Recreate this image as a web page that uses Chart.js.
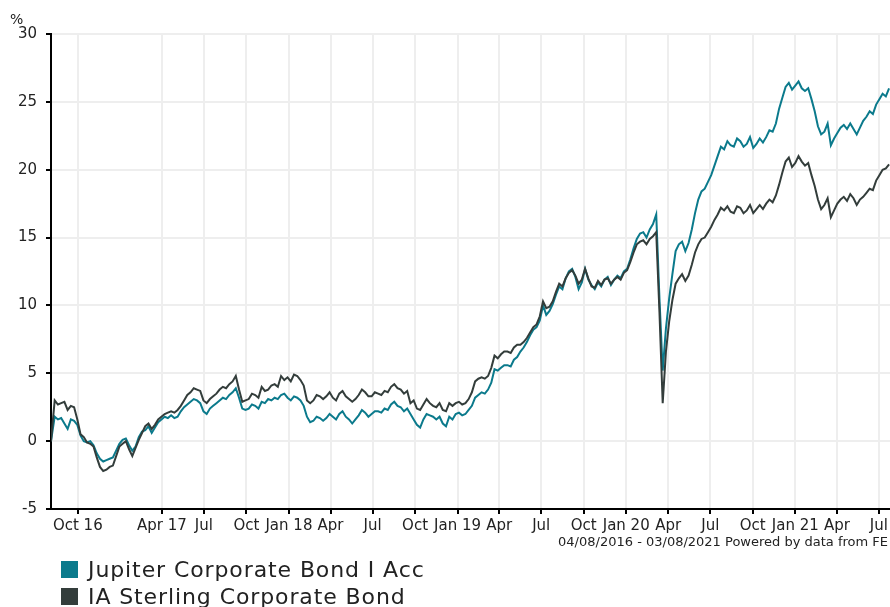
<!DOCTYPE html>
<html>
<head>
<meta charset="utf-8">
<script src="https://cdn.jsdelivr.net/npm/chart.js@4.4.0/dist/chart.umd.min.js"></script>
<style>
  body { margin: 0; background: #fff; font-family: "DejaVu Sans", sans-serif; }
  #wrap { position: relative; width: 890px; height: 607px; overflow: hidden; }
  #unit { position: absolute; left: 10px; top: 11px; font-size: 14px; color: #222; }
  #source { position: absolute; right: 2px; top: 534px; font-size: 13px; color: #222; white-space: nowrap; }
  .key { position: absolute; left: 61px; font-size: 22px; letter-spacing: 0.9px; color: #222; white-space: nowrap; line-height: 26px; }
  .key span { display: inline-block; width: 17px; height: 17px; margin-right: 10px; vertical-align: -1px; }
</style>
</head>
<body>
<div id="wrap">
  <canvas id="perfChart" width="890" height="607"></canvas>
  <div id="unit">%</div>
  <div id="source">04/08/2016 - 03/08/2021 Powered by data from FE</div>
  <div class="key" style="top:557px"><span style="background:#0b7a8c"></span>Jupiter Corporate Bond I Acc</div>
  <div class="key" style="top:584px"><span style="background:#333d3b"></span>IA Sterling Corporate Bond</div>
</div>
<script>
// days counted from 04/08/2016
const tickDays = [58, 240, 331, 423, 515, 605, 696, 788, 880, 970, 1061, 1153, 1245, 1336, 1427, 1519, 1611, 1701, 1792];
const tickLabels = ['Oct 16', 'Apr 17', 'Jul', 'Oct', 'Jan 18', 'Apr', 'Jul', 'Oct', 'Jan 19', 'Apr', 'Jul', 'Oct', 'Jan 20', 'Apr', 'Jul', 'Oct', 'Jan 21', 'Apr', 'Jul'];

// sample dates: start, then weekly
const days = [0];
for (let d = 8; d <= 1816; d += 7) days.push(d);

const jupiter = [0,
  1.8, 1.6, 1.7, 1.3, 0.9, 1.6, 1.5, 1.2, 0.4, 0.0,
  -0.1, 0.0, -0.3, -0.9, -1.3, -1.5, -1.4, -1.3, -1.2, -0.7,
  -0.2, 0.1, 0.2, -0.3, -0.7, -0.4, 0.3, 0.7, 0.8, 1.1,
  0.6, 1.0, 1.4, 1.6, 1.8, 1.7, 1.9, 1.7, 1.8, 2.2,
  2.5, 2.7, 2.9, 3.1, 3.0, 2.8, 2.2, 2.0, 2.4, 2.6,
  2.8, 3.0, 3.2, 3.1, 3.4, 3.6, 3.9, 3.2, 2.4, 2.3,
  2.4, 2.7, 2.6, 2.4, 2.9, 2.8, 3.1, 3.0, 3.2, 3.1,
  3.4, 3.5, 3.2, 3.0, 3.3, 3.2, 3.0, 2.6, 1.8, 1.4,
  1.5, 1.8, 1.7, 1.5, 1.7, 2.0, 1.8, 1.6, 2.0, 2.2,
  1.8, 1.6, 1.3, 1.6, 1.9, 2.3, 2.1, 1.8, 2.0, 2.2,
  2.2, 2.1, 2.4, 2.3, 2.7, 2.9, 2.6, 2.5, 2.2, 2.4,
  2.0, 1.6, 1.2, 1.0, 1.6, 2.0, 1.9, 1.8, 1.6, 1.8,
  1.3, 1.1, 1.8, 1.6, 2.0, 2.1, 1.9, 2.0, 2.3, 2.6,
  3.2, 3.4, 3.6, 3.5, 3.8, 4.3, 5.3, 5.2, 5.4, 5.6,
  5.6, 5.5, 6.0, 6.2, 6.6, 6.9, 7.3, 7.8, 8.2, 8.4,
  8.9, 10.0, 9.3, 9.6, 10.1, 10.8, 11.4, 11.2, 12.0, 12.5,
  12.7, 12.1, 11.2, 11.7, 12.7, 11.9, 11.5, 11.2, 11.7, 11.4,
  11.9, 12.1, 11.5, 11.9, 12.2, 12.0, 12.5, 12.7, 13.4, 14.2,
  14.9, 15.3, 15.4, 15.0, 15.6, 16.0, 16.7, 10.5, 5.2, 8.3,
  10.5, 12.3, 14.0, 14.5, 14.7, 14.0, 14.6, 15.6, 16.8, 17.8,
  18.4, 18.6, 19.1, 19.6, 20.3, 21.0, 21.7, 21.5, 22.1, 21.8,
  21.7, 22.3, 22.1, 21.7, 21.9, 22.4, 21.6, 21.9, 22.3, 22.0,
  22.4, 22.9, 22.8, 23.4, 24.5, 25.3, 26.1, 26.4, 25.9, 26.2,
  26.5, 26.0, 25.8, 26.0, 25.2, 24.3, 23.2, 22.6, 22.8, 23.4,
  21.8, 22.3, 22.7, 23.1, 23.3, 23.0, 23.4, 23.0, 22.6, 23.1,
  23.6, 23.9, 24.3, 24.1, 24.8, 25.2, 25.6, 25.4, 26.0];

const sector = [0,
  3.0, 2.7, 2.8, 2.9, 2.3, 2.6, 2.5, 1.6, 0.5, 0.3,
  -0.1, -0.2, -0.4, -1.2, -1.9, -2.2, -2.1, -1.9, -1.8, -1.1,
  -0.4, -0.2, 0.0, -0.6, -1.1, -0.5, 0.1, 0.6, 1.1, 1.3,
  0.9, 1.2, 1.6, 1.8, 2.0, 2.1, 2.2, 2.1, 2.3, 2.6,
  3.0, 3.4, 3.6, 3.9, 3.8, 3.7, 3.0, 2.8, 3.1, 3.3,
  3.5, 3.8, 4.0, 3.9, 4.2, 4.4, 4.8, 3.8, 2.9, 3.0,
  3.1, 3.5, 3.4, 3.2, 4.0, 3.7, 3.8, 4.1, 4.2, 4.0,
  4.8, 4.5, 4.7, 4.4, 4.9, 4.8, 4.5, 4.1, 3.0, 2.8,
  3.0, 3.4, 3.3, 3.1, 3.3, 3.6, 3.2, 3.0, 3.5, 3.7,
  3.3, 3.1, 2.9, 3.1, 3.4, 3.8, 3.6, 3.3, 3.3, 3.6,
  3.5, 3.4, 3.7, 3.6, 4.0, 4.2, 3.9, 3.8, 3.5, 3.7,
  2.8, 3.0, 2.4, 2.3, 2.7, 3.1, 2.8, 2.6, 2.5, 2.8,
  2.3, 2.2, 2.8, 2.6, 2.8, 2.9, 2.7, 2.8, 3.1, 3.6,
  4.4, 4.6, 4.7, 4.6, 4.8, 5.4, 6.3, 6.1, 6.4, 6.6,
  6.6, 6.5, 6.9, 7.1, 7.1, 7.3, 7.6, 8.0, 8.4, 8.6,
  9.2, 10.3, 9.8, 9.9, 10.3, 11.0, 11.6, 11.4, 12.0, 12.4,
  12.6, 12.2, 11.6, 11.9, 12.7, 12.0, 11.4, 11.3, 11.8, 11.5,
  11.9, 12.0, 11.6, 11.9, 12.1, 11.9, 12.4, 12.6, 13.2, 13.9,
  14.5, 14.7, 14.8, 14.5, 14.9, 15.1, 15.4, 9.5, 2.8, 6.6,
  8.8, 10.4, 11.6, 12.0, 12.3, 11.8, 12.2, 13.0, 13.9, 14.5,
  14.9, 15.0, 15.4, 15.8, 16.3, 16.7, 17.2, 17.0, 17.3, 16.9,
  16.8, 17.3, 17.2, 16.8, 17.0, 17.4, 16.8, 17.1, 17.4, 17.1,
  17.5, 17.8, 17.6, 18.1, 18.9, 19.8, 20.6, 20.9, 20.2, 20.5,
  21.0, 20.6, 20.3, 20.5, 19.6, 18.8, 17.8, 17.1, 17.4, 17.9,
  16.5, 17.0, 17.5, 17.8, 18.0, 17.7, 18.2, 17.9, 17.4, 17.8,
  18.0, 18.3, 18.6, 18.5, 19.2, 19.6, 20.0, 20.1, 20.4];

const toPoints = vals => vals.map((v, i) => ({ x: days[i], y: v }));

const axisFont = { family: 'DejaVu Sans', size: 15 };
const gridOpts = { color: '#eeeeee', lineWidth: 2, tickColor: '#000', tickLength: 5, tickWidth: 2 };

new Chart(document.getElementById('perfChart'), {
  type: 'line',
  data: {
    datasets: [{
      label: 'Jupiter Corporate Bond I Acc',
      data: toPoints(jupiter),
      borderColor: '#0b7a8c',
      order: 2
    }, {
      label: 'IA Sterling Corporate Bond',
      data: toPoints(sector),
      borderColor: '#333d3b',
      order: 1
    }]
  },
  options: {
    responsive: false,
    animation: false,
    layout: { padding: { top: 34, right: 0, bottom: 68, left: 0 } },
    elements: { point: { radius: 0 }, line: { borderWidth: 2, tension: 0 } },
    plugins: { legend: { display: false }, tooltip: { enabled: false } },
    scales: {
      x: {
        type: 'linear',
        min: 0,
        max: 1816,
        afterBuildTicks: s => { s.ticks = tickDays.map(v => ({ value: v })); },
        afterFit: s => { s.height = 30; s.paddingLeft = 0; s.paddingRight = 0; },
        ticks: {
          autoSkip: false,
          maxRotation: 0,
          padding: 3,
          color: '#222',
          font: axisFont,
          callback: (v, i) => tickLabels[i]
        },
        grid: gridOpts,
        border: { color: '#000', width: 2 }
      },
      y: {
        min: -5,
        max: 30,
        afterFit: s => { s.width = 51; s.paddingTop = 0; s.paddingBottom = 0; },
        ticks: { stepSize: 5, padding: 9, color: '#222', font: axisFont },
        grid: gridOpts,
        border: { color: '#000', width: 2 }
      }
    }
  }
});
</script>
</body>
</html>
